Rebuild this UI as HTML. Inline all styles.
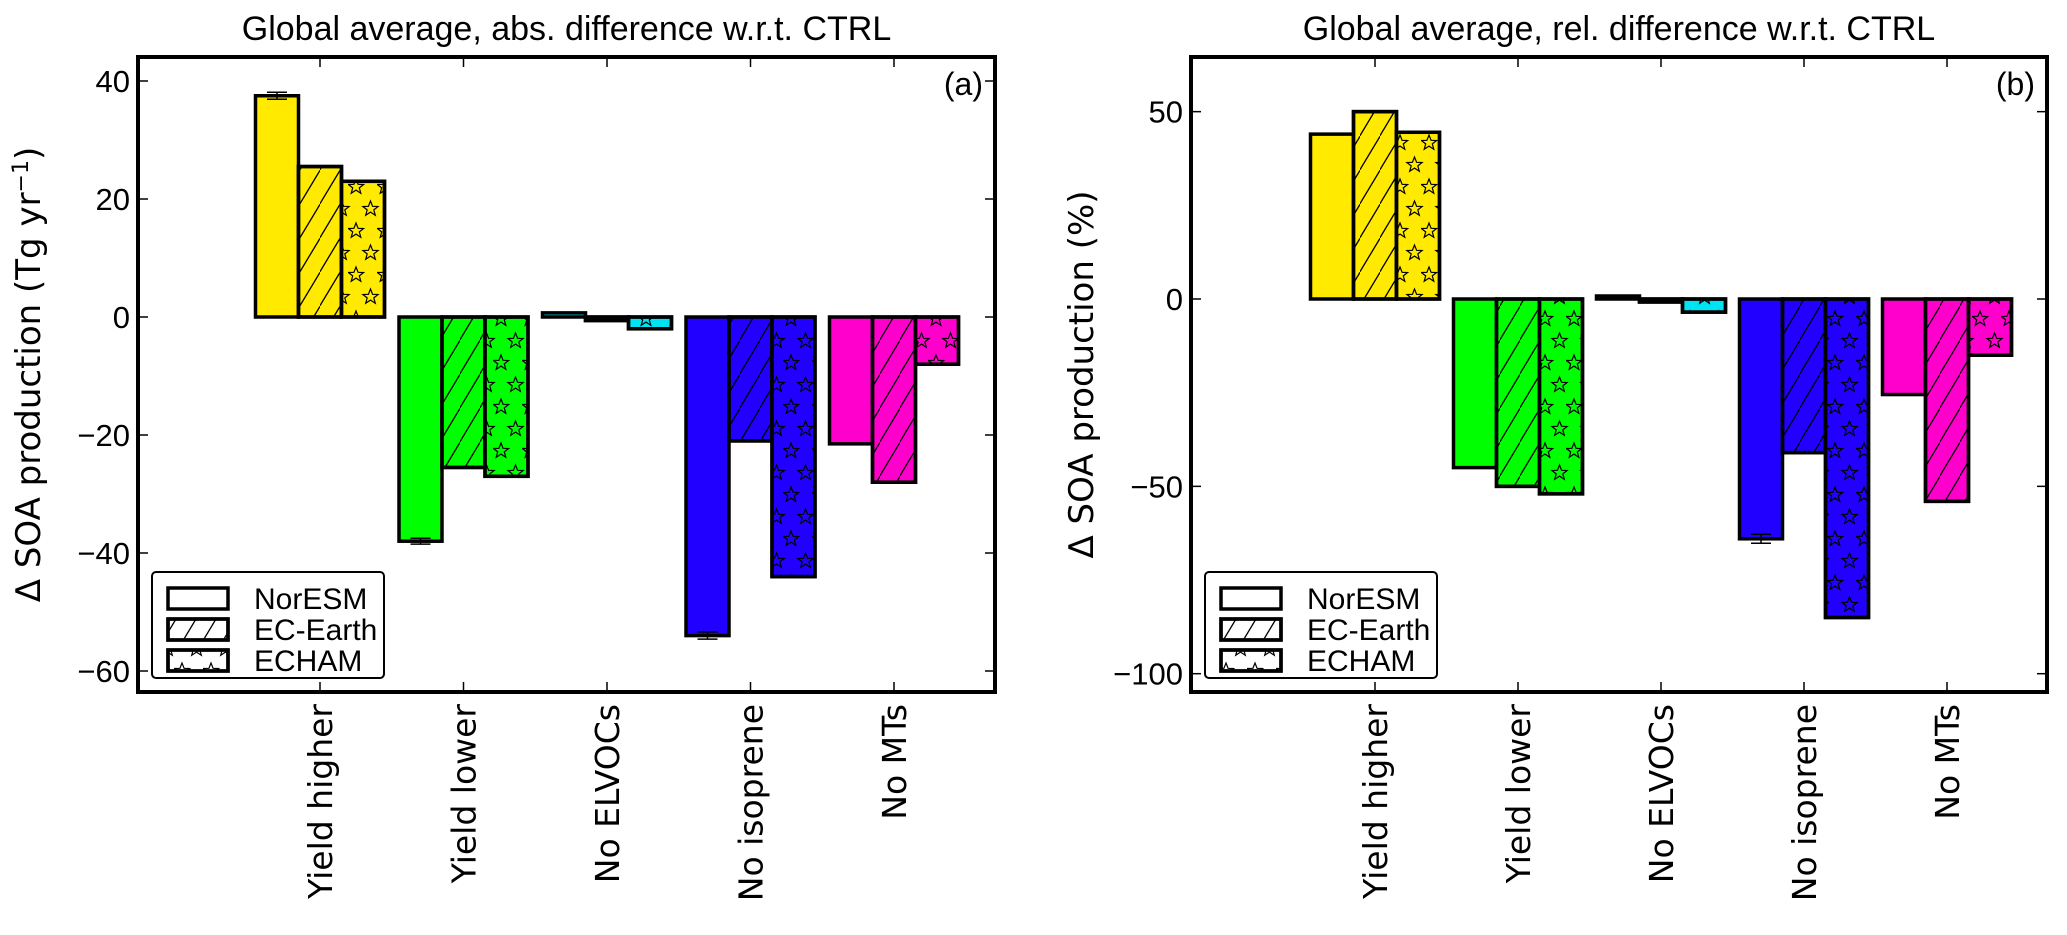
<!DOCTYPE html>
<html><head><meta charset="utf-8"><style>
html,body{margin:0;padding:0;background:#fff;}
svg{display:block;font-family:"Liberation Sans","DejaVu Sans",sans-serif;}
</style></head><body>
<svg id="chart" width="2067" height="935" viewBox="0 0 2067 935" xmlns="http://www.w3.org/2000/svg">
<defs>
<pattern id="hatch" patternUnits="userSpaceOnUse" width="20" height="34">
<line x1="-2" y1="37" x2="22" y2="-3" stroke="#000" stroke-width="1.3"/>
</pattern>
<pattern id="stars" patternUnits="userSpaceOnUse" width="29" height="44">
<polygon points="8,3 10.1,8.3 15.6,8.5 11.3,11.9 12.8,17.2 8,14.1 3.2,17.2 4.7,11.9 0.4,8.5 5.9,8.3" fill="none" stroke="#000" stroke-width="1.2"/>
<polygon points="22.5,25 24.6,30.3 30.1,30.5 25.8,33.9 27.3,39.2 22.5,36.1 17.7,39.2 19.2,33.9 14.9,30.5 20.4,30.3" fill="none" stroke="#000" stroke-width="1.2"/>
<polygon points="-6.5,25 -4.4,30.3 1.1,30.5 -3.2,33.9 -1.7,39.2 -6.5,36.1 -11.3,39.2 -9.8,33.9 -14.1,30.5 -8.6,30.3" fill="none" stroke="#000" stroke-width="1.2"/>
</pattern>
</defs>
<g id="panels"></g>
</svg>
<script>
const categories = ["Yield higher","Yield lower","No ELVOCs","No isoprene","No MTs"];
const models = ["NorESM","EC-Earth","ECHAM"];
const colors = ["#ffea00","#00ff00","#00e3f2","#2200ff","#ff00cc"];
const absNorESM = [37.5,-38,0.7,-54,-21.5];
const absECEarth = [25.5,-25.5,-0.6,-21,-28];
const absECHAM = [23,-27,-2,-44,-8];
const absErr = [0.6,0.5,0,0.6,0];
const relNorESM = [44,-45,0.8,-64,-25.5];
const relECEarth = [50,-50,-0.8,-41,-54];
const relECHAM = [44.5,-52,-3.5,-85,-15];
const relErr = [0,0,0,1.2,0];
const absTicks = [40,20,0,-20,-40,-60];
const relTicks = [50,0,-50,-100];

const NS="http://www.w3.org/2000/svg";
const root=document.getElementById('panels');
function mk(tag,attrs,parent){const e=document.createElementNS(NS,tag);for(const k in attrs)e.setAttribute(k,attrs[k]);(parent||root).appendChild(e);return e;}
const fills=["none","url(#hatch)","url(#stars)"];

function panel(cfg){
  const g=mk('g',{});
  
  
  const L=cfg.left,R=cfg.right,T=57,B=692;
  const y=v=>cfg.zeroY - v*cfg.ppu;
  const step=cfg.step;
  const tx=i=>cfg.tick0+i*step;
  const bw=43;
  const t=mk('text',{x:(L+R)/2,y:40,'text-anchor':'middle','font-size':34},g);
  t.textContent=cfg.title;
  
  
  const series=cfg.series;
  for(let c=0;c<categories.length;c++){
    for(let m=0;m<3;m++){
      const v=series[m][c];
      const x0=tx(c)-1.5*bw+m*bw;
      const y0=Math.min(y(v),y(0)),h=Math.abs(y(v)-y(0));
      const r=mk('rect',{x:x0,y:y0,width:bw,height:Math.max(h,1),fill:colors[c],stroke:'#000','stroke-width':3.5},g);
      
      
      if(m>0){
        const o=mk('rect',{x:x0,y:y0,width:bw,height:Math.max(h,1),fill:fills[m],stroke:'#000','stroke-width':3.5},g);
        
        
      }
    }
    const e=cfg.err[c];
    if(e>0){
      const v=series[0][c],cx=tx(c)-bw;
      const eg=mk('g',{stroke:'#000','stroke-width':1.5},g);
      
      
      mk('line',{x1:cx,x2:cx,y1:y(v-e),y2:y(v+e)},eg);
      mk('line',{x1:cx-10,x2:cx+10,y1:y(v-e),y2:y(v-e)},eg);
      mk('line',{x1:cx-10,x2:cx+10,y1:y(v+e),y2:y(v+e)},eg);
    }
    mk('line',{x1:tx(c),x2:tx(c),y1:T,y2:T+10,stroke:'#000','stroke-width':1.5},g);
    mk('line',{x1:tx(c),x2:tx(c),y1:B,y2:B-10,stroke:'#000','stroke-width':1.5},g);
    const lx=tx(c)+12,ly=B+12;
    const lab=mk('text',{x:lx,y:ly,'text-anchor':'end','font-size':33,'font-family':'"DejaVu Sans",sans-serif',transform:`rotate(-90 ${lx} ${ly})`},g);
    lab.textContent=categories[c];
    
    
  }
  for(const v of cfg.ticks){
    mk('line',{x1:L,x2:L+10,y1:y(v),y2:y(v),stroke:'#000','stroke-width':1.5},g);
    mk('line',{x1:R,x2:R-10,y1:y(v),y2:y(v),stroke:'#000','stroke-width':1.5},g);
    const tl=mk('text',{x:L-8,y:y(v)+11,'text-anchor':'end','font-size':31},g);
    tl.textContent=(v<0?'\u2212':'')+Math.abs(v);
    
    
  }
  const f=mk('rect',{x:L,y:T,width:R-L,height:B-T,fill:'none',stroke:'#000','stroke-width':4},g);
  
  
  const pl=mk('text',{x:R-12,y:T+38,'text-anchor':'end','font-size':32},g);
  pl.textContent=cfg.letter;
  
  
  const yx=cfg.ylabX,yy=(T+B)/2;
  const yl=mk('text',{x:yx,y:yy,'text-anchor':'middle','font-size':34,'font-family':'"DejaVu Sans",sans-serif',transform:`rotate(-90 ${yx} ${yy})`},g);
  yl.innerHTML=cfg.ylab;
  
  
  const lg=mk('g',{},g);
  
  
  const lx0=L+14;
  mk('rect',{x:lx0,y:572,width:232,height:106,rx:4,fill:'#fff',stroke:'#000','stroke-width':2},lg);
  for(let m=0;m<3;m++){
    const ry=588+m*31;
    const ent=mk('g',{},lg);
    
    
    mk('rect',{x:lx0+16,y:ry,width:60,height:21,fill:'#fff',stroke:'#000','stroke-width':3.5},ent);
    if(m>0) mk('rect',{x:lx0+16,y:ry,width:60,height:21,fill:fills[m],stroke:'#000','stroke-width':3.5},ent);
    const lt=mk('text',{x:lx0+102,y:ry+21,'font-size':30},ent);
    lt.textContent=models[m];
  }
}
panel({name:'panel-a-absolute',left:138,right:995,tick0:320,step:143.5,zeroY:317,ppu:5.9,
  title:'Global average, abs. difference w.r.t. CTRL',series:[absNorESM,absECEarth,absECHAM],err:absErr,
  ticks:absTicks,letter:'(a)',ylabX:40,ylab:'Δ SOA production (Tg yr<tspan font-size="22" dy="-12">−1</tspan><tspan dy="12">)</tspan>'});
panel({name:'panel-b-relative',left:1191,right:2047,tick0:1375,step:143,zeroY:299,ppu:3.747,
  title:'Global average, rel. difference w.r.t. CTRL',series:[relNorESM,relECEarth,relECHAM],err:relErr,
  ticks:relTicks,letter:'(b)',ylabX:1093,ylab:'Δ SOA production (%)'});
</script>
</body></html>
